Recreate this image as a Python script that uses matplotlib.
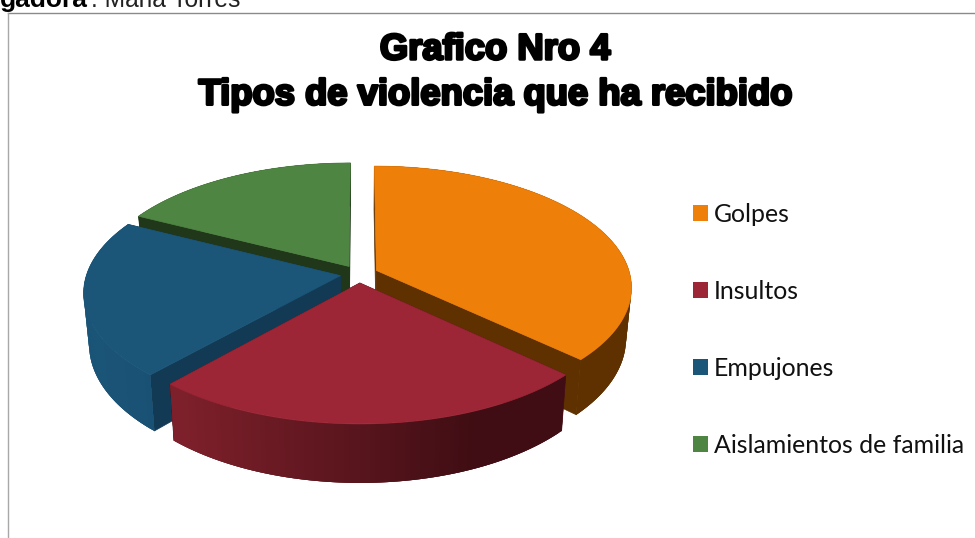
import numpy as np
import matplotlib
matplotlib.use('Agg')
import matplotlib.pyplot as plt
import matplotlib.patheffects as pe
from matplotlib.colors import to_rgb
from matplotlib.patches import Patch, Polygon

# datos (porcentajes aproximados)
categorias = ['Golpes', 'Insultos', 'Empujones', 'Aislamientos de familia']
valores = [37, 24.6, 20.9, 17.5]
colores = ['#EE7F09', '#9C2635', '#1B5679', '#4F8542']
caras = ['#5F3000', '#3F0D13', '#123A54', '#20371A']
# color del borde curvo, izquierda y derecha
borde_izq = ['#5F3000', '#7E202B', '#1A5477', '#20371A']
borde_der = ['#5F3000', '#3F0D13', '#16466A', '#20371A']
titulo = 'Grafico Nro 4\nTipos de violencia que ha recibido'

# parametros de la perspectiva, en pixeles
cx, cy = 359, 274
A, B, k = 253.5, 119.3, 0.1345
sep = 0.075
alto = 50


def proyectar(u, v):
    d = 1 - k * v
    return cx + A * u / d, cy + B * v / d


def bajar(x, y):
    return cx + 0.98 * (x - cx), cy + 1.06 * (y - cy) + alto


def mezcla(c1, c2, t):
    t = min(max(t, 0), 1)
    return tuple((1 - t) * a + t * b for a, b in zip(to_rgb(c1), to_rgb(c2)))


fig = plt.figure(figsize=(9.75, 5.38), dpi=100)
ax = fig.add_axes([0, 0, 1, 1])
ax.set_xlim(0, 975)
ax.set_ylim(538, 0)
ax.axis('off')

# marco del grafico
ax.plot([975, 8], [13, 13], color='#8a8a8a', lw=1)
ax.plot([8, 8], [13, 538], color='#a8a8a8', lw=1)

angulos = np.cumsum([0] + valores) / sum(valores) * 2 * np.pi

# orden de dibujo: de atras hacia adelante
for i in [3, 0, 2, 1]:
    t = np.linspace(angulos[i], angulos[i + 1], 90)
    m = (angulos[i] + angulos[i + 1]) / 2
    u0, v0 = sep * np.sin(m), -sep * np.cos(m)
    x, y = proyectar(u0 + np.sin(t), v0 - np.cos(t))
    xa, ya = proyectar(u0, v0)
    xb, yb = bajar(x, y)
    xab, yab = bajar(xa, ya)

    # caras interiores
    for j in [0, -1]:
        ax.add_patch(Polygon([(xa, ya), (x[j], y[j]), (xb[j], yb[j]), (xab, yab)],
                             fc=caras[i], ec=caras[i], lw=0.5))
    # base del borde, tapa las uniones
    ax.add_patch(Polygon(np.column_stack([np.r_[x, xb[::-1]], np.r_[y, yb[::-1]]]),
                         fc=mezcla(borde_izq[i], borde_der[i], 0.5), ec='none', lw=0))
    # borde curvo con degradado, cada trozo pisa al anterior para que no se vean rayas
    for j in range(len(t) - 1):
        c = mezcla(borde_izq[i], borde_der[i], (x[j] - x.min() - 10) / 300)
        h = min(j + 2, len(t) - 1)
        ax.add_patch(Polygon([(x[j], y[j]), (x[h], y[h]), (xb[h], yb[h]), (xb[j], yb[j])],
                             fc=c, ec='none', lw=0))
    # cara superior
    ax.add_patch(Polygon(np.column_stack([np.r_[xa, x], np.r_[ya, y]]),
                         fc=colores[i], ec=colores[i], lw=0.5))

ax.text(495, 72.5, titulo, ha='center', va='center', family='Liberation Sans',
        weight='bold', fontsize=26.2, linespacing=1.38, color='black',
        path_effects=[pe.withStroke(linewidth=2, foreground='black')])

# texto cortado de la pagina de arriba
ax.text(0, 7, 'gadora', family='Liberation Sans', weight='bold',
        fontsize=19, va='baseline', color='black')
ax.text(91, 7, ': Maria Torres', family='Liberation Sans', fontsize=17.7,
        va='baseline', color='#222222')

manijas = [Patch(fc=c, ec=c, lw=0) for c in colores]
ax.legend(manijas, categorias, loc='upper left', bbox_to_anchor=(693 / 975, 1 - 203 / 538),
          frameon=False, prop={'family': 'Lato', 'size': 17.9}, labelspacing=2.17,
          handlelength=0.6, handleheight=0.6, handletextpad=0.24,
          borderpad=0, borderaxespad=0, labelcolor='#111111')

fig.savefig('out.png', dpi=100)
